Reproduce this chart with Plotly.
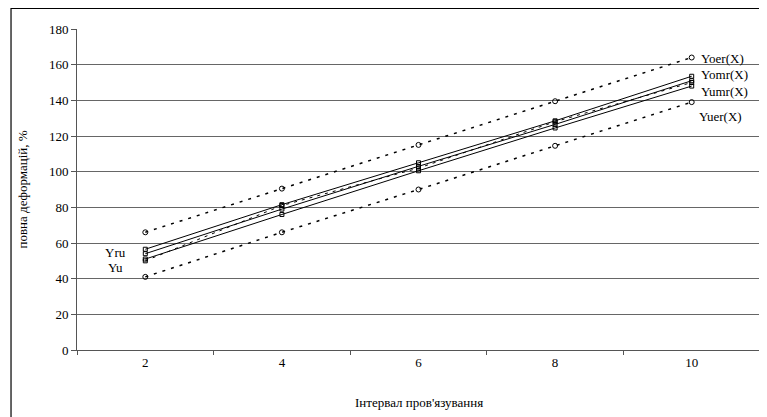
import plotly.graph_objects as go

x_vals = [2, 4, 6, 8, 10]
y_oer = [66, 90.5, 115, 139.5, 164]
y_uer = [41, 66, 90, 114.5, 139]
y_omr = [56.5, 81.5, 105, 128.5, 153.5]
y_ru = [54, 79, 103, 126.5, 151]
y_umr = [51, 76, 100.5, 124.5, 148]
y_u = [50, 81, 102, 128, 150]

y_ticks = [0, 20, 40, 60, 80, 100, 120, 140, 160, 180]
x_ticks = [2, 4, 6, 8, 10]

FONT = "Liberation Serif, Times New Roman, serif"

fig = go.Figure()

def add(y, dash, symbol, size, width=1):
    fig.add_trace(go.Scatter(
        x=x_vals, y=y, mode="lines+markers",
        line=dict(color="black", width=width, dash=dash),
        marker=dict(symbol=symbol, size=size, color="black",
                    line=dict(color="black", width=1)),
        showlegend=False, cliponaxis=False))

add(y_oer, "3px,6px", "circle-open", 5, 1.5)
add(y_uer, "3px,6px", "circle-open", 5, 1.5)
add(y_omr, "solid", "square-open", 4)
add(y_ru, "solid", "square-open", 4)
add(y_umr, "solid", "square-open", 4)
add(y_u, "3px,5px", "square-open", 4)

labels = [
    ("Yoer(X)", 10.1, 163.5, "left", 13),
    ("Yomr(X)", 10.1, 154.5, "left", 13),
    ("Yumr(X)", 10.1, 145, "left", 13),
    ("Yuer(X)", 10.08, 131, "left", 13),
    ("Yru", 1.56, 54.8, "center", 13),
    ("Yu", 1.56, 46.5, "center", 13),
]
for t, xx, yy, anc, fs in labels:
    fig.add_annotation(x=xx, y=yy, text=t, showarrow=False, xanchor=anc,
                       yanchor="middle", font=dict(family=FONT, size=fs, color="black"))

fig.add_annotation(xref="paper", yref="paper", x=0.5, y=-0.162, yanchor="middle",
                   text="Інтервал пров'язування", showarrow=False,
                   font=dict(family=FONT, size=13, color="black"))
fig.add_annotation(xref="paper", yref="paper", x=-0.0805, y=0.5, textangle=-90,
                   xanchor="center", yanchor="middle",
                   text="повна деформацій, %", showarrow=False,
                   font=dict(family=FONT, size=13, color="black"))

fig.add_shape(type="rect", xref="paper", yref="paper",
              x0=-0.0966, x1=1.05, y0=-0.3, y1=1.0639,
              line=dict(color="black", width=1.2), fillcolor="rgba(0,0,0,0)")

fig.update_xaxes(range=[1, 11], tickvals=x_ticks, ticks="", showgrid=False,
                 showline=True, linecolor="#555", linewidth=1, zeroline=False,
                 minor=dict(tickvals=[1, 3, 5, 7, 9, 11], ticks="outside",
                            ticklen=4, tickcolor="#555", showgrid=False),
                 tickfont=dict(family=FONT, size=13, color="black"))
fig.update_yaxes(range=[0, 180], tickvals=y_ticks, ticks="outside", ticklen=5,
                 tickcolor="#555", showgrid=True, gridcolor="#666", gridwidth=1,
                 showline=True, linecolor="#555", linewidth=1, zeroline=False,
                 tickfont=dict(family=FONT, size=13, color="black"))

# the page has an 8px body margin; the figure is sized to fill the rest
fig.update_layout(width=759, height=409, margin=dict(l=69, r=7, t=21, b=67),
                  plot_bgcolor="white", paper_bgcolor="white",
                  font=dict(family=FONT, color="black"))

fig.write_html("out.html")
